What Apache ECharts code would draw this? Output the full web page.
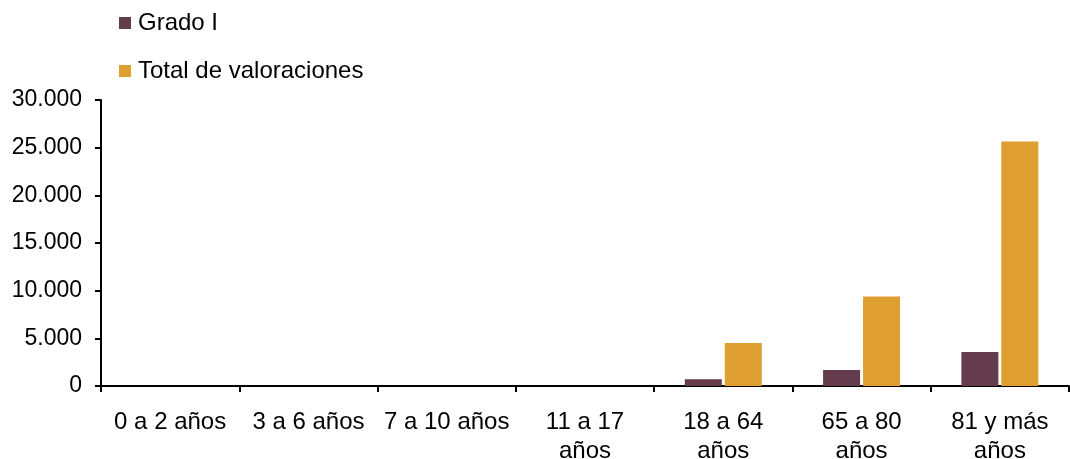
<!DOCTYPE html>
<html><head><meta charset="utf-8">
<script src="https://cdn.jsdelivr.net/npm/echarts@6/dist/echarts.min.js"></script>
<style>html,body{margin:0;padding:0;background:#fff}#c{width:1070px;height:459px}</style>
</head><body><div id="c"></div>
<script>
const categories = ["0 a 2 años", "3 a 6 años", "7 a 10 años", "11 a 17\naños", "18 a 64\naños", "65 a 80\naños", "81 y más\naños"];
const gradoI = [0, 0, 1, 2, 700, 1680, 3560];
const totalValoraciones = [1, 2, 3, 8, 4500, 9400, 25650];
const seriesNames = ["Grado I", "Total de valoraciones"];

const font = "'Liberation Sans', Arial, sans-serif";
const chart = echarts.init(document.getElementById('c'), null, {renderer: 'canvas'});
chart.setOption({
  animation: false,
  textStyle: {fontFamily: font},
  legend: {
    orient: 'vertical', left: 114, top: 6, itemGap: 24,
    itemWidth: 12, itemHeight: 12, icon: 'rect',
    textStyle: {fontFamily: font, fontSize: 24, color: '#000', padding: [0, 0, 0, 2]},
    data: seriesNames
  },
  grid: {left: 101, right: 1, top: 100, bottom: 73, containLabel: false, outerBoundsMode: 'none'},
  xAxis: {
    type: 'category', data: categories,
    axisLine: {lineStyle: {color: '#000', width: 2}},
    axisTick: {show: true, length: 6, lineStyle: {color: '#000', width: 2}},
    axisLabel: {color: '#000', fontSize: 24, fontFamily: font, margin: 22, lineHeight: 29, interval: 0}
  },
  yAxis: {
    type: 'value', min: 0, max: 30000, interval: 5000,
    axisLine: {show: true, lineStyle: {color: '#000', width: 2}},
    axisTick: {show: true, length: 6, lineStyle: {color: '#000', width: 2}},
    splitLine: {show: false},
    axisLabel: {color: '#000', fontSize: 23, fontFamily: font, margin: 19,
      formatter: v => v.toString().replace(/\B(?=(\d{3})+(?!\d))/g, '.')}
  },
  series: [
    {name: seriesNames[0], type: 'bar', data: gradoI, barWidth: 37, barGap: '8%',
     itemStyle: {color: '#653C4B'}},
    {name: seriesNames[1], type: 'bar', data: totalValoraciones, barWidth: 37, barGap: '8%',
     itemStyle: {color: '#DF9E30'}}
  ]
});
</script></body></html>
